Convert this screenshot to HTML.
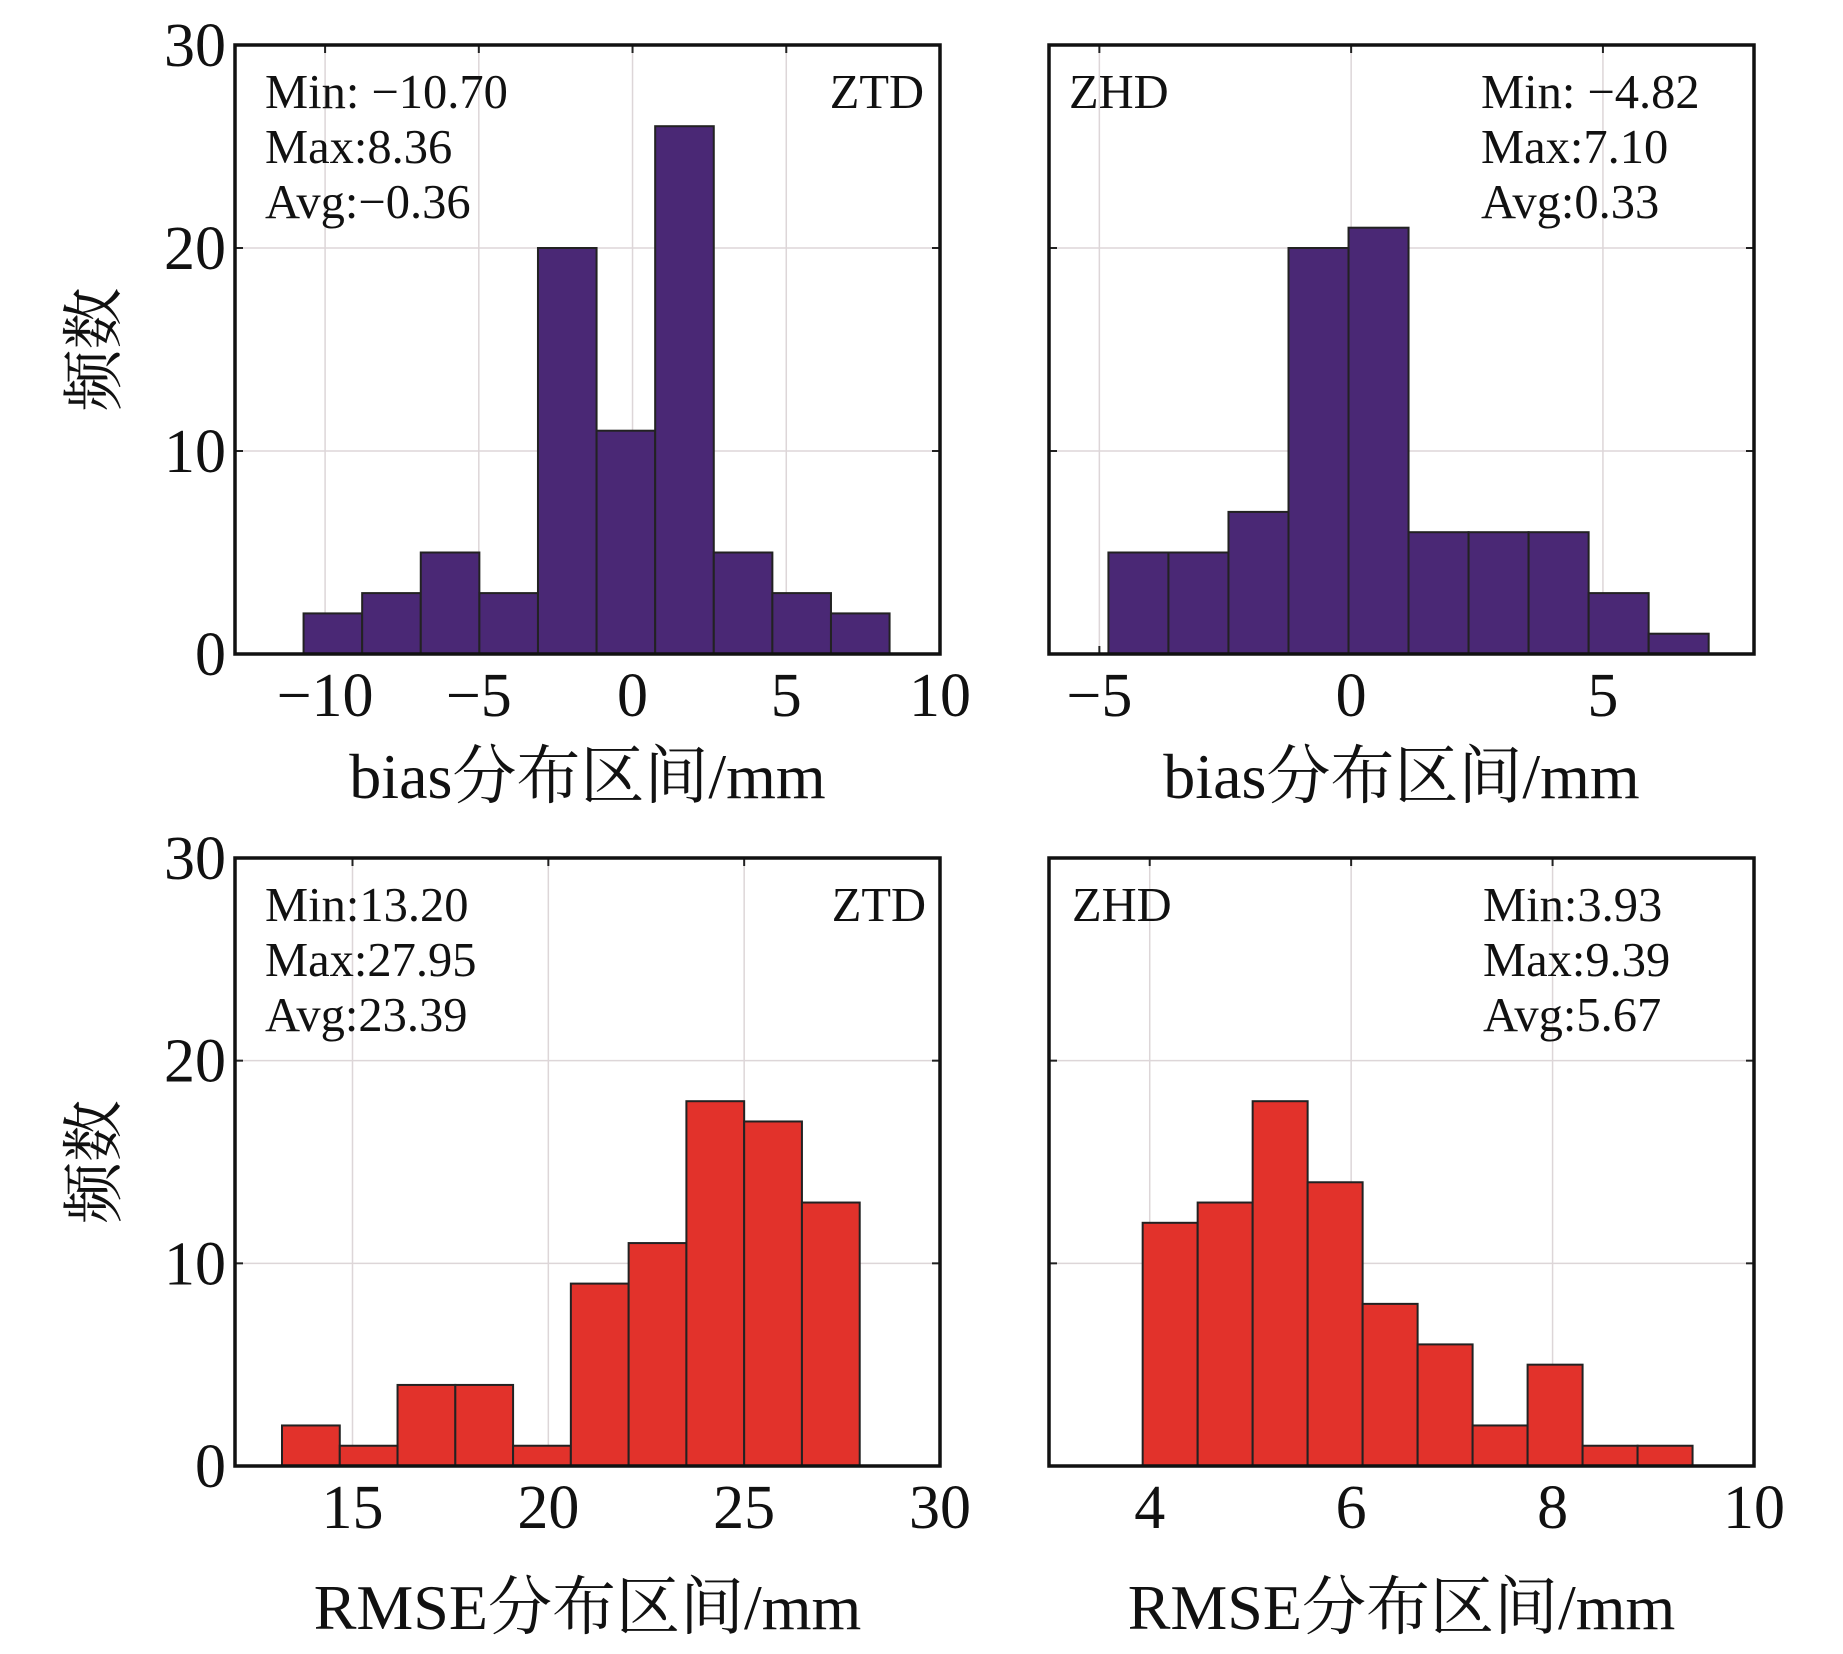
<!DOCTYPE html>
<html><head><meta charset="utf-8">
<style>
html,body{margin:0;padding:0;background:#fff;}
svg{display:block;font-family:"Liberation Serif","Noto Serif CJK SC",serif;}
</style></head>
<body>
<svg id="chart" width="1843" height="1654" viewBox="0 0 1843 1654" xmlns="http://www.w3.org/2000/svg"></svg>
<script>
// Panel data
const ztdBiasCounts = [2,3,5,3,20,11,26,5,3,2];
const ztdBiasRange = [-10.70, 8.36];
const zhdBiasCounts = [5,5,7,20,21,6,6,6,3,1];
const zhdBiasRange = [-4.82, 7.10];
const ztdRmseCounts = [2,1,4,4,1,9,11,18,17,13];
const ztdRmseRange = [13.20, 27.95];
const zhdRmseCounts = [12,13,18,14,8,6,2,5,1,1];
const zhdRmseRange = [3.93, 9.39];
const ztdBiasTicks = [-10,-5,0,5,10];
const zhdBiasTicks = [-5,0,5];
const ztdRmseTicks = [15,20,25,30];
const zhdRmseTicks = [4,6,8,10];
const yTicks = [0,10,20,30];
const ztdBiasStats = ["Min: \u221210.70","Max:8.36","Avg:\u22120.36"];
const zhdBiasStats = ["Min: \u22124.82","Max:7.10","Avg:0.33"];
const ztdRmseStats = ["Min:13.20","Max:27.95","Avg:23.39"];
const zhdRmseStats = ["Min:3.93","Max:9.39","Avg:5.67"];

const NS="http://www.w3.org/2000/svg";
const svg=document.getElementById('chart');
function mk(tag,attrs,parent){const e=document.createElementNS(NS,tag);for(const k in attrs)e.setAttribute(k,attrs[k]);(parent||svg).appendChild(e);return e;}

function panel(o){
  const g=mk('g',{});
  
  
  const L=o.box[0],R=o.box[1],T=o.box[2],B=o.box[3];
  const xs=v=>L+(v-o.xlim[0])/(o.xlim[1]-o.xlim[0])*(R-L);
  const ys=v=>B-v/30*(B-T);
  o.xticks.forEach(t=>{const x=xs(t);if(x>L+2&&x<R-2){const l=mk('line',{x1:x,x2:x,y1:T,y2:B,stroke:'#ddd6d8','stroke-width':1.5},g);
    mk('line',{x1:x,x2:x,y1:T,y2:T+8,stroke:'#222','stroke-width':2},g);mk('line',{x1:x,x2:x,y1:B,y2:B-8,stroke:'#222','stroke-width':2},g);}});
  yTicks.forEach(t=>{const y=ys(t);if(t>0&&t<30){const l=mk('line',{x1:L,x2:R,y1:y,y2:y,stroke:'#ddd6d8','stroke-width':1.5},g);
    mk('line',{x1:L,x2:L+8,y1:y,y2:y,stroke:'#222','stroke-width':2},g);mk('line',{x1:R,x2:R-8,y1:y,y2:y,stroke:'#222','stroke-width':2},g);}});
  const n=o.counts.length,w=(o.range[1]-o.range[0])/n;
  o.counts.forEach((c,i)=>{const x0=xs(o.range[0]+i*w),x1=xs(o.range[0]+(i+1)*w);
    const r=mk('rect',{x:x0,y:ys(c),width:x1-x0,height:ys(0)-ys(c),fill:o.color,stroke:'#222','stroke-width':2},g);
    
    });
  const f=mk('rect',{x:L,y:T,width:R-L,height:B-T,fill:'none',stroke:'#111','stroke-width':3.5},g);
  
  o.xticks.forEach(t=>{const e=mk('text',{x:xs(t),y:B+62,'font-size':62,'text-anchor':'middle',fill:'#111'},g);e.textContent=(t<0?'\u2212':'')+Math.abs(t);
    });
  if(o.ylabels){yTicks.forEach(t=>{const e=mk('text',{x:L-9,y:ys(t)+21,'font-size':62,'text-anchor':'end',fill:'#111'},g);e.textContent=t;
    });
    const yl=mk('text',{x:0,y:0,'font-size':62,'text-anchor':'middle',fill:'#111',transform:`translate(${L-120},${(T+B)/2}) rotate(-90)`},g);yl.textContent='频数';
    }
  const xt=mk('text',{x:(L+R)/2,y:o.titleY,'font-size':64,'text-anchor':'middle',fill:'#111'},g);xt.textContent=o.title;
  
  o.stats.forEach((s,i)=>{const e=mk('text',{x:o.statX,y:T+63+i*55,'font-size':48.5,fill:'#111'},g);e.textContent=s;
    });
  const tag=mk('text',{x:o.tagX,y:T+63,'font-size':48.5,'text-anchor':o.tagAnchor,fill:'#111'},g);tag.textContent=o.tag;
  
}
const PUR='#4a2875',RED='#e2322b';
panel({name:'ztd-bias-panel',box:[235,940,45,654],xlim:[-12.93,10],xticks:ztdBiasTicks,counts:ztdBiasCounts,range:ztdBiasRange,color:PUR,ylabels:true,title:'bias分布区间/mm',titleY:798,stats:ztdBiasStats,statX:265,tag:'ZTD',tagX:924,tagAnchor:'end'});
panel({name:'zhd-bias-panel',box:[1049,1754,45,654],xlim:[-6,8],xticks:zhdBiasTicks,counts:zhdBiasCounts,range:zhdBiasRange,color:PUR,ylabels:false,title:'bias分布区间/mm',titleY:798,stats:zhdBiasStats,statX:1481,tag:'ZHD',tagX:1069,tagAnchor:'start'});
panel({name:'ztd-rmse-panel',box:[235,940,858,1466],xlim:[12,30],xticks:ztdRmseTicks,counts:ztdRmseCounts,range:ztdRmseRange,color:RED,ylabels:true,title:'RMSE分布区间/mm',titleY:1629,stats:ztdRmseStats,statX:265,tag:'ZTD',tagX:926,tagAnchor:'end'});
panel({name:'zhd-rmse-panel',box:[1049,1754,858,1466],xlim:[3,10],xticks:zhdRmseTicks,counts:zhdRmseCounts,range:zhdRmseRange,color:RED,ylabels:false,title:'RMSE分布区间/mm',titleY:1629,stats:zhdRmseStats,statX:1483,tag:'ZHD',tagX:1072,tagAnchor:'start'});
</script>
</body></html>
